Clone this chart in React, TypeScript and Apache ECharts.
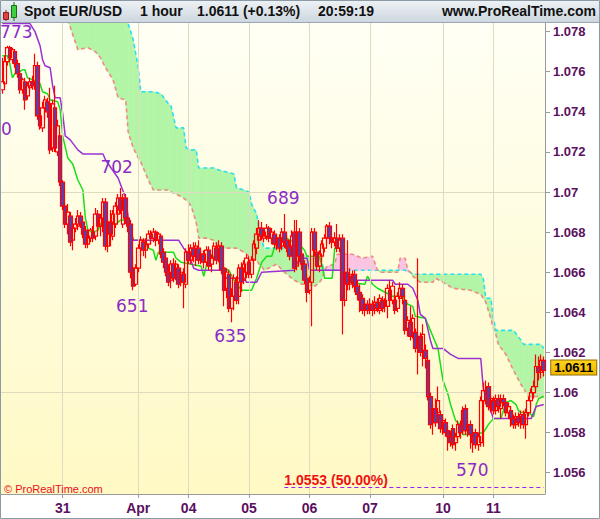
import React, { useEffect, useRef } from 'react';
import * as echarts from 'echarts';

// ---------- data ----------
const DAY_LABELS = ['', '31', 'Apr', '04', '05', '06', '07', '10', '11'];
const DAY_COUNTS = [24, 30, 20, 24, 24, 24, 29, 20, 21];
const Y_TICKS = [1.056, 1.058, 1.06, 1.062, 1.064, 1.066, 1.068, 1.07, 1.072, 1.074, 1.076, 1.078];
const Y_MIN = 1.05494;
const Y_MAX = 1.07843;
const LAST_PRICE = 1.0611;
const FIB_LEVEL = 1.0553;
const FIB_TEXT = '1.0553 (50.00%)';
const FIB_FROM = 112;

// [open, close, low, high] per hourly bar
const CANDLES: number[][] = [
  /*0*/ [1.0751, 1.0755, 1.0749, 1.0767], [1.0754, 1.0765, 1.0752, 1.0768], [1.0765, 1.0772, 1.0763, 1.0773], [1.0772, 1.0767, 1.0765, 1.0773],
  /*4*/ [1.0766, 1.0771, 1.0764, 1.0772], [1.0770, 1.0764, 1.0762, 1.0771], [1.0764, 1.0759, 1.0757, 1.0766], [1.0759, 1.0751, 1.0749, 1.0760],
  /*8*/ [1.0751, 1.0756, 1.0749, 1.0757], [1.0755, 1.0746, 1.0741, 1.0757], [1.0748, 1.0753, 1.0746, 1.0755], [1.0752, 1.0755, 1.0750, 1.0757],
  /*12*/ [1.0755, 1.0753, 1.0751, 1.0758], [1.0753, 1.0763, 1.0751, 1.0769], [1.0763, 1.0738, 1.0736, 1.0765], [1.0738, 1.0733, 1.0731, 1.0741],
  /*16*/ [1.0732, 1.0742, 1.0730, 1.0745], [1.0742, 1.0746, 1.0736, 1.0748], [1.0745, 1.0740, 1.0737, 1.0747], [1.0744, 1.0721, 1.0719, 1.0752],
  /*20*/ [1.0722, 1.0744, 1.0720, 1.0746], [1.0742, 1.0722, 1.0720, 1.0753], [1.0720, 1.0733, 1.0718, 1.0736], [1.0728, 1.0705, 1.0703, 1.0730],
  /*24*/ [1.0705, 1.0693, 1.0691, 1.0706], [1.0693, 1.0684, 1.0682, 1.0695], [1.0684, 1.0690, 1.0679, 1.0694], [1.0688, 1.0675, 1.0673, 1.0690],
  /*28*/ [1.0676, 1.0682, 1.0671, 1.0684], [1.0682, 1.0684, 1.0680, 1.0687], [1.0683, 1.0688, 1.0681, 1.0691], [1.0688, 1.0684, 1.0682, 1.0690],
  /*32*/ [1.0685, 1.0679, 1.0677, 1.0687], [1.0681, 1.0674, 1.0672, 1.0683], [1.0674, 1.0678, 1.0672, 1.0680], [1.0677, 1.0681, 1.0675, 1.0682],
  /*36*/ [1.0680, 1.0677, 1.0675, 1.0683], [1.0678, 1.0689, 1.0676, 1.0692], [1.0689, 1.0683, 1.0680, 1.0691], [1.0683, 1.0687, 1.0678, 1.0689],
  /*40*/ [1.0683, 1.0695, 1.0680, 1.0697], [1.0695, 1.0673, 1.0671, 1.0697], [1.0673, 1.0685, 1.0670, 1.0687], [1.0685, 1.0679, 1.0673, 1.0691],
  /*44*/ [1.0678, 1.0689, 1.0676, 1.0691], [1.0684, 1.0693, 1.0682, 1.0695], [1.0689, 1.0697, 1.0685, 1.0699], [1.0697, 1.0691, 1.0689, 1.0702],
  /*48*/ [1.0684, 1.0697, 1.0682, 1.0699], [1.0697, 1.0687, 1.0684, 1.0699], [1.0687, 1.0683, 1.0680, 1.0690], [1.0684, 1.0660, 1.0657, 1.0686],
  /*52*/ [1.0662, 1.0653, 1.0651, 1.0668], [1.0654, 1.0662, 1.0653, 1.0664], [1.0662, 1.0672, 1.0660, 1.0674], [1.0672, 1.0676, 1.0668, 1.0678],
  /*56*/ [1.0675, 1.0671, 1.0668, 1.0677], [1.0671, 1.0674, 1.0667, 1.0677], [1.0674, 1.0679, 1.0672, 1.0681], [1.0679, 1.0677, 1.0674, 1.0681],
  /*60*/ [1.0677, 1.0680, 1.0675, 1.0682], [1.0680, 1.0676, 1.0673, 1.0681], [1.0676, 1.0679, 1.0674, 1.0680], [1.0678, 1.0669, 1.0667, 1.0679],
  /*64*/ [1.0670, 1.0665, 1.0662, 1.0672], [1.0667, 1.0660, 1.0658, 1.0669], [1.0660, 1.0655, 1.0653, 1.0664], [1.0656, 1.0664, 1.0652, 1.0666],
  /*68*/ [1.0664, 1.0657, 1.0655, 1.0667], [1.0658, 1.0664, 1.0656, 1.0666], [1.0662, 1.0654, 1.0652, 1.0664], [1.0655, 1.0660, 1.0653, 1.0662],
  /*72*/ [1.0659, 1.0655, 1.0642, 1.0662], [1.0654, 1.0670, 1.0652, 1.0672], [1.0670, 1.0666, 1.0664, 1.0674], [1.0666, 1.0672, 1.0664, 1.0674],
  /*76*/ [1.0672, 1.0668, 1.0665, 1.0675], [1.0668, 1.0673, 1.0663, 1.0675], [1.0672, 1.0666, 1.0664, 1.0676], [1.0666, 1.0669, 1.0664, 1.0672],
  /*80*/ [1.0669, 1.0665, 1.0662, 1.0671], [1.0665, 1.0671, 1.0663, 1.0673], [1.0671, 1.0663, 1.0661, 1.0673], [1.0664, 1.0667, 1.0660, 1.0669],
  /*84*/ [1.0667, 1.0673, 1.0665, 1.0675], [1.0672, 1.0666, 1.0664, 1.0675], [1.0667, 1.0673, 1.0665, 1.0676], [1.0673, 1.0661, 1.0659, 1.0675],
  /*88*/ [1.0662, 1.0651, 1.0643, 1.0664], [1.0652, 1.0660, 1.0647, 1.0662], [1.0659, 1.0642, 1.0640, 1.0661], [1.0642, 1.0648, 1.0635, 1.0652],
  /*92*/ [1.0648, 1.0657, 1.0641, 1.0659], [1.0655, 1.0646, 1.0644, 1.0658], [1.0648, 1.0662, 1.0644, 1.0664], [1.0662, 1.0655, 1.0650, 1.0665],
  /*96*/ [1.0656, 1.0664, 1.0654, 1.0666], [1.0660, 1.0667, 1.0657, 1.0669], [1.0665, 1.0659, 1.0657, 1.0668], [1.0659, 1.0666, 1.0657, 1.0668],
  /*100*/ [1.0666, 1.0674, 1.0664, 1.0676], [1.0672, 1.0679, 1.0669, 1.0682], [1.0676, 1.0682, 1.0675, 1.0686], [1.0682, 1.0678, 1.0676, 1.0685],
  /*104*/ [1.0677, 1.0680, 1.0675, 1.0682], [1.0678, 1.0682, 1.0676, 1.0684], [1.0682, 1.0677, 1.0675, 1.0683], [1.0677, 1.0680, 1.0674, 1.0682],
  /*108*/ [1.0679, 1.0674, 1.0672, 1.0681], [1.0674, 1.0677, 1.0671, 1.0679], [1.0677, 1.0672, 1.0670, 1.0679], [1.0673, 1.0680, 1.0671, 1.0682],
  /*112*/ [1.0680, 1.0675, 1.0672, 1.0689], [1.0676, 1.0672, 1.0670, 1.0679], [1.0673, 1.0668, 1.0666, 1.0676], [1.0672, 1.0678, 1.0670, 1.0681],
  /*116*/ [1.0680, 1.0662, 1.0660, 1.0686], [1.0663, 1.0680, 1.0661, 1.0686], [1.0680, 1.0668, 1.0665, 1.0682], [1.0669, 1.0664, 1.0661, 1.0671],
  /*120*/ [1.0664, 1.0656, 1.0654, 1.0666], [1.0657, 1.0650, 1.0645, 1.0659], [1.0651, 1.0655, 1.0649, 1.0658], [1.0655, 1.0680, 1.0633, 1.0682],
  /*124*/ [1.0680, 1.0671, 1.0668, 1.0682], [1.0670, 1.0663, 1.0661, 1.0672], [1.0663, 1.0669, 1.0660, 1.0671], [1.0668, 1.0674, 1.0665, 1.0676],
  /*128*/ [1.0672, 1.0677, 1.0670, 1.0679], [1.0677, 1.0683, 1.0674, 1.0684], [1.0683, 1.0677, 1.0674, 1.0685], [1.0677, 1.0675, 1.0672, 1.0679],
  /*132*/ [1.0675, 1.0677, 1.0673, 1.0680], [1.0677, 1.0672, 1.0670, 1.0684], [1.0672, 1.0676, 1.0670, 1.0679], [1.0677, 1.0646, 1.0629, 1.0679],
  /*136*/ [1.0646, 1.0660, 1.0643, 1.0662], [1.0660, 1.0654, 1.0651, 1.0676], [1.0654, 1.0659, 1.0651, 1.0662], [1.0658, 1.0655, 1.0652, 1.0661],
  /*140*/ [1.0659, 1.0653, 1.0650, 1.0661], [1.0653, 1.0649, 1.0646, 1.0656], [1.0650, 1.0646, 1.0640, 1.0654], [1.0647, 1.0641, 1.0639, 1.0649],
  /*144*/ [1.0641, 1.0644, 1.0638, 1.0646], [1.0644, 1.0641, 1.0639, 1.0646], [1.0641, 1.0644, 1.0639, 1.0647], [1.0644, 1.0641, 1.0638, 1.0646],
  /*148*/ [1.0641, 1.0645, 1.0639, 1.0648], [1.0645, 1.0642, 1.0640, 1.0647], [1.0641, 1.0647, 1.0639, 1.0649], [1.0646, 1.0642, 1.0640, 1.0648],
  /*152*/ [1.0643, 1.0646, 1.0640, 1.0647], [1.0643, 1.0652, 1.0637, 1.0654], [1.0651, 1.0646, 1.0643, 1.0656], [1.0646, 1.0653, 1.0644, 1.0655],
  /*156*/ [1.0646, 1.0641, 1.0639, 1.0648], [1.0642, 1.0648, 1.0640, 1.0650], [1.0647, 1.0652, 1.0645, 1.0655], [1.0652, 1.0648, 1.0644, 1.0654],
  /*160*/ [1.0646, 1.0631, 1.0629, 1.0648], [1.0632, 1.0636, 1.0628, 1.0638], [1.0635, 1.0628, 1.0626, 1.0643], [1.0629, 1.0637, 1.0627, 1.0639],
  /*164*/ [1.0630, 1.0622, 1.0620, 1.0632], [1.0622, 1.0627, 1.0609, 1.0667], [1.0628, 1.0620, 1.0618, 1.0630], [1.0621, 1.0629, 1.0613, 1.0634],
  /*168*/ [1.0621, 1.0617, 1.0612, 1.0624], [1.0616, 1.0598, 1.0596, 1.0618], [1.0598, 1.0584, 1.0582, 1.0600], [1.0585, 1.0592, 1.0579, 1.0594],
  /*172*/ [1.0592, 1.0585, 1.0583, 1.0597], [1.0590, 1.0596, 1.0588, 1.0603], [1.0589, 1.0582, 1.0580, 1.0591], [1.0582, 1.0586, 1.0579, 1.0588],
  /*176*/ [1.0585, 1.0580, 1.0578, 1.0587], [1.0581, 1.0578, 1.0571, 1.0583], [1.0578, 1.0575, 1.0573, 1.0581], [1.0582, 1.0574, 1.0572, 1.0584],
  /*180*/ [1.0575, 1.0578, 1.0571, 1.0580], [1.0578, 1.0584, 1.0576, 1.0586], [1.0584, 1.0580, 1.0577, 1.0586], [1.0591, 1.0581, 1.0579, 1.0593],
  /*184*/ [1.0592, 1.0581, 1.0579, 1.0594], [1.0581, 1.0584, 1.0578, 1.0586], [1.0584, 1.0579, 1.0572, 1.0586], [1.0579, 1.0575, 1.0570, 1.0581],
  /*188*/ [1.0580, 1.0574, 1.0572, 1.0582], [1.0574, 1.0578, 1.0571, 1.0580], [1.0575, 1.0596, 1.0573, 1.0598], [1.0596, 1.0601, 1.0573, 1.0605],
  /*192*/ [1.0601, 1.0596, 1.0594, 1.0606], [1.0603, 1.0593, 1.0591, 1.0605], [1.0593, 1.0597, 1.0590, 1.0599], [1.0596, 1.0591, 1.0589, 1.0598],
  /*196*/ [1.0591, 1.0597, 1.0589, 1.0599], [1.0597, 1.0593, 1.0590, 1.0599], [1.0592, 1.0597, 1.0587, 1.0599], [1.0597, 1.0595, 1.0593, 1.0599],
  /*200*/ [1.0595, 1.0590, 1.0588, 1.0597], [1.0590, 1.0593, 1.0587, 1.0595], [1.0591, 1.0587, 1.0583, 1.0593], [1.0587, 1.0584, 1.0582, 1.0589],
  /*204*/ [1.0584, 1.0588, 1.0582, 1.0590], [1.0588, 1.0585, 1.0583, 1.0590], [1.0585, 1.0589, 1.0582, 1.0591], [1.0589, 1.0584, 1.0582, 1.0591],
  /*208*/ [1.0584, 1.0590, 1.0577, 1.0592], [1.0590, 1.0596, 1.0588, 1.0598], [1.0596, 1.0600, 1.0593, 1.0602], [1.0600, 1.0603, 1.0597, 1.0606],
  /*212*/ [1.0603, 1.0613, 1.0601, 1.0619], [1.0613, 1.0610, 1.0606, 1.0618], [1.0610, 1.0616, 1.0607, 1.0619], [1.0616, 1.0611, 1.0608, 1.0618],
];

// Tenkan-sen vertices [bar, price]
const TENKAN: number[][] = [
  [0, 1.0768], [2, 1.0768], [3, 1.0764], [4, 1.0757], [5, 1.0759], [7, 1.0760], [8, 1.0761], [9, 1.0761], [10, 1.0757],
  [12, 1.0756], [15, 1.0754], [16, 1.0750], [18, 1.0749], [19, 1.0746], [22, 1.0745], [23, 1.0741], [24, 1.0728],
  [26, 1.0717], [28, 1.0714], [30, 1.0706], [32, 1.0701], [33, 1.0687], [34, 1.0681], [36, 1.0680], [38, 1.0681],
  [39, 1.0684], [40, 1.0685], [45, 1.0684], [47, 1.0686], [50, 1.0686], [52, 1.0676], [56, 1.0676], [58, 1.0672],
  [60, 1.0671], [61, 1.0666], [62, 1.0670], [68, 1.0670], [69, 1.0667], [71, 1.0665], [79, 1.0663], [80, 1.0658],
  [82, 1.0668], [86, 1.0668], [88, 1.0662], [90, 1.0661], [92, 1.0656], [95, 1.0651], [99, 1.0651], [101, 1.0657],
  [103, 1.0665], [105, 1.0668], [107, 1.0668], [109, 1.0676], [112, 1.0678], [114, 1.0676], [118, 1.0674],
  [120, 1.0671], [121, 1.0668], [126, 1.0668], [127, 1.0663], [128, 1.0657], [131, 1.0657], [132, 1.0672],
  [135, 1.0672], [136, 1.0655], [144, 1.0654], [145, 1.0658], [147, 1.0654], [149, 1.0652], [152, 1.0650],
  [155, 1.0648], [159, 1.0648], [161, 1.0644], [163, 1.0643], [164, 1.0638], [168, 1.0637], [173, 1.0622],
  [175, 1.0606], [177, 1.0599], [178, 1.0594], [180, 1.0586], [182, 1.0584], [183, 1.0579], [191, 1.0580],
  [193, 1.0584], [195, 1.0587], [198, 1.0587], [200, 1.0595], [202, 1.0596], [204, 1.0594], [205, 1.0591],
  [206, 1.0590], [209, 1.0590], [211, 1.0588], [212, 1.0594], [213, 1.0597], [215, 1.0598],
];

// Kijun-sen vertices [bar, price]
const KIJUN: number[][] = [
  [0, 1.0784], [11, 1.0784], [13, 1.0780], [15, 1.0773], [16, 1.0766], [17, 1.0763], [19, 1.0762], [20, 1.0753],
  [21, 1.0747], [23, 1.0747], [24, 1.0739], [25, 1.0728], [27, 1.0726], [30, 1.0721], [32, 1.0719], [40, 1.0719],
  [41, 1.0716], [46, 1.0707], [49, 1.0697], [50, 1.0687], [52, 1.0676], [70, 1.0676], [72, 1.0672], [74, 1.0669],
  [76, 1.0662], [78, 1.0661], [87, 1.0661], [89, 1.0657], [96, 1.0657], [97, 1.0655], [101, 1.0655], [103, 1.0660],
  [116, 1.0661], [118, 1.0667], [121, 1.0667], [122, 1.0661], [135, 1.0661], [136, 1.0658], [138, 1.0656],
  [155, 1.0656], [156, 1.0654], [161, 1.0654], [163, 1.0652], [165, 1.0646], [166, 1.0639], [168, 1.0637],
  [170, 1.0626], [171, 1.0622], [175, 1.0622], [178, 1.0619], [181, 1.0617], [190, 1.0617], [191, 1.0602],
  [195, 1.0587], [210, 1.0587], [212, 1.0593], [215, 1.0594],
];

// Cloud vertices [bar, senkou span A, senkou span B]
const CLOUD: number[][] = [
  [26, 1.0812, 1.0786], [30, 1.0810, 1.0771], [34, 1.0806, 1.0772], [37, 1.0803, 1.0770], [39, 1.0800, 1.0767],
  [41, 1.0797, 1.0762], [44, 1.0793, 1.0756], [46, 1.0790, 1.0747], [49, 1.0786, 1.0746], [50, 1.0784, 1.0730],
  [52, 1.0776, 1.0722], [54, 1.0762, 1.0717], [55, 1.0750, 1.0715], [58, 1.0750, 1.0706], [60, 1.0750, 1.0701],
  [63, 1.0749, 1.0701], [66, 1.0744, 1.0701], [67, 1.0743, 1.0700], [69, 1.0732, 1.0699], [72, 1.0732, 1.0697],
  [73, 1.0722, 1.0696], [75, 1.0721, 1.0693], [77, 1.0721, 1.0685], [78, 1.0712, 1.0677], [81, 1.0712, 1.0677],
  [84, 1.0712, 1.0676], [86, 1.0711, 1.0672], [92, 1.0709, 1.0672], [93, 1.0702, 1.0672], [96, 1.0701, 1.0670],
  [98, 1.0700, 1.0668], [99, 1.0694, 1.0667], [101, 1.0689, 1.0666], [102, 1.0682, 1.0664], [103, 1.0676, 1.0663],
  [104, 1.0672, 1.0661], [109, 1.0672, 1.0664], [112, 1.0672, 1.0660], [116, 1.0671, 1.0656], [119, 1.0669, 1.0654],
  [121, 1.0668, 1.0654], [124, 1.0667, 1.0653], [126, 1.0667, 1.0655], [127, 1.0664, 1.0657], [128, 1.0661, 1.0661],
  [129, 1.0661, 1.0663], [132, 1.0661, 1.0664], [133, 1.0661, 1.0669], [139, 1.0661, 1.0669], [143, 1.0661, 1.0667],
  [147, 1.0661, 1.0668], [149, 1.0661, 1.0661], [150, 1.0661, 1.0660], [157, 1.0661, 1.0660], [158, 1.0661, 1.0667],
  [160, 1.0661, 1.0667], [161, 1.0660, 1.0661], [162, 1.0660, 1.0660], [163, 1.0659, 1.0658], [166, 1.0659, 1.0655],
  [171, 1.0659, 1.0655], [172, 1.0659, 1.0657], [175, 1.0659, 1.0655], [179, 1.0659, 1.0652], [186, 1.0659, 1.0651],
  [190, 1.0659, 1.0649], [191, 1.0657, 1.0647], [192, 1.0647, 1.0645], [193, 1.0647, 1.0641], [194, 1.0647, 1.0637],
  [195, 1.0637, 1.0632], [196, 1.0631, 1.0629], [197, 1.0631, 1.0624], [200, 1.0631, 1.0619], [203, 1.0631, 1.0611],
  [206, 1.0626, 1.0604], [207, 1.0624, 1.0602], [209, 1.0624, 1.0598], [214, 1.0624, 1.0598], [215, 1.0622, 1.0598],
];

// Swing labels: [text, bar, price]
const SWINGS: [string, number, number][] = [
  ['773', 2, 1.0773],
  ['702', 47, 1.0702],
  ['651', 52, 1.0651],
  ['635', 91, 1.0635],
  ['689', 112, 1.0689],
  ['570', 187, 1.0570],
];

// ---------- styles / positions ----------
const SWING_OFFSETS: number[][] = [[9, -14], [-4, -21], [-1, 16], [-1, 14], [-1, -16], [-1, 17]];
const AXIS_COLOR = '#5b1060';
const SWING_COLOR = '#8b2cc8';
const SANS = 'Liberation Sans, Arial, sans-serif';

export default function App() {
  const ref = useRef<HTMLDivElement>(null);

  useEffect(() => {
    const el = ref.current;
    if (!el) return;
    const chart = echarts.init(el, null, { renderer: 'svg' });

    const categories: string[] = [];
    const labelAt: Record<number, string> = {};
    let k = 0;
    DAY_COUNTS.forEach((c, d) => {
      if (DAY_LABELS[d]) labelAt[k] = DAY_LABELS[d];
      for (let j = 0; j < c; j++) { categories.push(String(k)); k++; }
    });
    const dayStarts = Object.keys(labelAt).map(Number);
    const isStart = (i: number) => labelAt[i] !== undefined;

    const GREEN = '#b2f5a6';
    const PINK = '#fbc4e2';

    const cloudSeries = {
      type: 'custom',
      coordinateSystem: 'cartesian2d',
      clip: true,
      silent: true,
      z: 1,
      data: CLOUD.map((c) => [c[0], c[1], c[2]]),
      encode: { x: 0, y: [1, 2] },
      renderItem: (params: any, api: any) => {
        const i = params.dataIndex;
        if (i >= CLOUD.length - 1) return { type: 'group', children: [] };
        const p = CLOUD[i];
        const q = CLOUD[i + 1];
        const a0 = api.coord([p[0], p[1]]);
        const b0 = api.coord([p[0], p[2]]);
        const a1 = api.coord([q[0], q[1]]);
        const b1 = api.coord([q[0], q[2]]);
        const d0 = p[1] - p[2];
        const d1 = q[1] - q[2];
        const children: any[] = [];
        const poly = (pts: number[][], green: boolean) =>
          children.push({ type: 'polygon', shape: { points: pts }, style: { fill: green ? GREEN : PINK, stroke: green ? GREEN : PINK, lineWidth: 0.5 } });
        if (d0 * d1 >= 0) {
          poly([a0, a1, b1, b0], d0 + d1 >= 0);
        } else {
          const t = d0 / (d0 - d1);
          const m = [a0[0] + t * (a1[0] - a0[0]), a0[1] + t * (a1[1] - a0[1])];
          poly([a0, m, b0], d0 > 0);
          poly([m, a1, b1], d1 > 0);
        }
        return { type: 'group', children };
      },
    };

    const option: any = {
      animation: false,
      backgroundColor: '#ffffff',
      grid: { left: 1, right: 55, top: 23, bottom: 25, containLabel: false, outerBoundsMode: 'none' },
      xAxis: {
        type: 'category',
        data: categories,
        boundaryGap: true,
        axisLine: { show: true, lineStyle: { color: '#9a9a9a', width: 1 } },
        axisTick: { show: true, alignWithLabel: true, length: 4, interval: (i: number) => isStart(i), lineStyle: { color: '#9a9a9a' } },
        axisLabel: {
          interval: (i: number) => isStart(i),
          formatter: (_v: string, i: number) => labelAt[i] || '',
          color: AXIS_COLOR, fontWeight: 'bold', fontSize: 14, fontFamily: SANS, margin: 7,
        },
        splitLine: { show: false },
      },
      yAxis: {
        type: 'value',
        position: 'right',
        min: Y_MIN,
        max: Y_MAX,
        axisLine: { show: true, lineStyle: { color: '#9a9a9a', width: 1 } },
        axisTick: { show: true, inside: false, length: 5, customValues: Y_TICKS, lineStyle: { color: '#9a9a9a' } },
        axisLabel: {
          customValues: Y_TICKS,
          formatter: (v: number) => String(Number(v.toFixed(3))),
          color: AXIS_COLOR, fontWeight: 'bold', fontSize: 13, fontFamily: SANS, margin: 8,
        },
        splitLine: { show: false },
      },
      graphic: [
        {
          type: 'rect', z: -10, silent: true,
          shape: { x: 1, y: 23, width: 544, height: 471 },
          style: { fill: new echarts.graphic.LinearGradient(0, 0, 0, 1, [{ offset: 0, color: '#fffff5' }, { offset: 1, color: '#fff9c4' }]) },
        },
        {
          type: 'rect', z: 100, silent: true,
          shape: { x: 0, y: 0, width: 600, height: 22 },
          style: { fill: new echarts.graphic.LinearGradient(0, 0, 0, 1, [{ offset: 0, color: '#eef2f5' }, { offset: 1, color: '#cdd7df' }]) },
        },
        { type: 'line', z: 101, silent: true, shape: { x1: 0, y1: 22.5, x2: 600, y2: 22.5 }, style: { stroke: '#9aa6b0', lineWidth: 1 } },
        { type: 'line', z: 101, silent: true, shape: { x1: 6, y1: 10, x2: 6, y2: 21 }, style: { stroke: '#802020', lineWidth: 1 } },
        { type: 'rect', z: 102, silent: true, shape: { x: 3.5, y: 12.5, width: 5, height: 7 }, style: { fill: '#e84040', stroke: '#802020', lineWidth: 1 } },
        { type: 'line', z: 101, silent: true, shape: { x1: 14, y1: 2, x2: 14, y2: 21 }, style: { stroke: '#1b6b1b', lineWidth: 1 } },
        { type: 'rect', z: 102, silent: true, shape: { x: 11.5, y: 5.5, width: 5, height: 12 }, style: { fill: '#3fcf3f', stroke: '#1b6b1b', lineWidth: 1 } },
        { type: 'text', z: 103, silent: true, x: 24, y: 11, style: { text: 'Spot EUR/USD', fill: '#111', fontSize: 14, fontWeight: 'bold', fontFamily: SANS, verticalAlign: 'middle' } },
        { type: 'text', z: 103, silent: true, x: 140, y: 11, style: { text: '1 hour', fill: '#111', fontSize: 14, fontWeight: 'bold', fontFamily: SANS, verticalAlign: 'middle' } },
        { type: 'text', z: 103, silent: true, x: 197, y: 11, style: { text: '1.0611 (+0.13%)', fill: '#111', fontSize: 14, fontWeight: 'bold', fontFamily: SANS, verticalAlign: 'middle' } },
        { type: 'text', z: 103, silent: true, x: 318, y: 11, style: { text: '20:59:19', fill: '#111', fontSize: 14, fontWeight: 'bold', fontFamily: SANS, verticalAlign: 'middle' } },
        { type: 'text', z: 103, silent: true, x: 596, y: 11, style: { text: 'www.ProRealTime.com', fill: '#111', fontSize: 14, fontWeight: 'bold', fontFamily: SANS, align: 'right', verticalAlign: 'middle' } },
        { type: 'text', z: 50, silent: true, x: 4, y: 489, style: { text: '© ProRealTime.com', fill: '#e8101c', fontSize: 11, fontFamily: SANS, verticalAlign: 'middle' } },
        { type: 'text', z: 50, silent: true, x: 1, y: 129, style: { text: '0', fill: SWING_COLOR, fontSize: 17, fontFamily: 'DejaVu Sans', verticalAlign: 'middle' } },
        { type: 'rect', z: 110, silent: true, shape: { x: 0.5, y: 0.5, width: 599, height: 518 }, style: { fill: 'none', stroke: '#8c9aa6', lineWidth: 1 } },
      ],
      series: [
        cloudSeries,
        {
          type: 'line', data: [], silent: true, z: 2, symbol: 'none',
          markLine: {
            silent: true, symbol: ['none', 'none'], animation: false,
            label: { show: false },
            lineStyle: { color: '#dedbc0', width: 1, type: 'solid' },
            data: [...Y_TICKS.map((v) => ({ yAxis: v })), ...dayStarts.map((i) => ({ xAxis: i }))],
          },
        },
        {
          type: 'line', data: CLOUD.map((c) => [c[0], c[1]]), symbol: 'none', silent: true, z: 3,
          lineStyle: { color: '#2ae0ee', width: 1.6, type: [4, 3] },
        },
        {
          type: 'line', data: CLOUD.map((c) => [c[0], c[2]]), symbol: 'none', silent: true, z: 3,
          lineStyle: { color: '#f08a82', width: 1.6, type: [4, 3] },
        },
        {
          type: 'line', data: TENKAN, symbol: 'none', silent: true, z: 4,
          lineStyle: { color: '#18e018', width: 1.5 },
        },
        {
          type: 'line', data: KIJUN, symbol: 'none', silent: true, z: 4,
          lineStyle: { color: '#9a32d2', width: 1.5 },
        },
        {
          type: 'candlestick', data: CANDLES, z: 5, silent: true, barWidth: 4,
          itemStyle: { color: 'rgba(0,0,0,0)', color0: '#5d3fa8', borderColor: '#ff0000', borderColor0: '#ff0000', borderWidth: 1.2 },
          markPoint: {
            silent: true, animation: false,
            symbol: 'rect', symbolSize: 1, itemStyle: { color: 'rgba(0,0,0,0)' },
            label: { show: true, position: 'inside', color: SWING_COLOR, fontSize: 17, fontFamily: 'DejaVu Sans', formatter: (p: any) => p.name },
            data: [
              ...SWINGS.map((s, i) => ({ name: s[0], coord: [s[1], s[2]], label: { offset: SWING_OFFSETS[i] } })),
              {
                name: LAST_PRICE.toFixed(4), coord: [CANDLES.length - 1, LAST_PRICE],
                label: {
                  offset: [30, -3], color: '#000', fontSize: 13, fontWeight: 'bold', fontFamily: SANS,
                  backgroundColor: new echarts.graphic.LinearGradient(0, 0, 0, 1, [{ offset: 0, color: '#ffd21a' }, { offset: 1, color: '#f2b800' }]),
                  borderColor: '#8f7000', borderWidth: 1, padding: [1, 3, 0, 3],
                },
              },
            ],
          },
          markLine: {
            silent: true, animation: false, symbol: ['none', 'none'],
            lineStyle: { color: '#a020f0', width: 1, type: [4, 3] },
            label: { show: true, position: 'insideStartTop', formatter: FIB_TEXT, color: '#ee1111', fontWeight: 'bold', fontSize: 14, fontFamily: SANS, distance: 0 },
            data: [[{ coord: [FIB_FROM, FIB_LEVEL] }, { coord: [CANDLES.length - 1, FIB_LEVEL] }]],
          },
        },
      ],
    };

    chart.setOption(option);
    return () => chart.dispose();
  }, []);

  return <div ref={ref} style={{ position: 'absolute', left: 0, top: 0, width: 600, height: 519 }} />;
}
